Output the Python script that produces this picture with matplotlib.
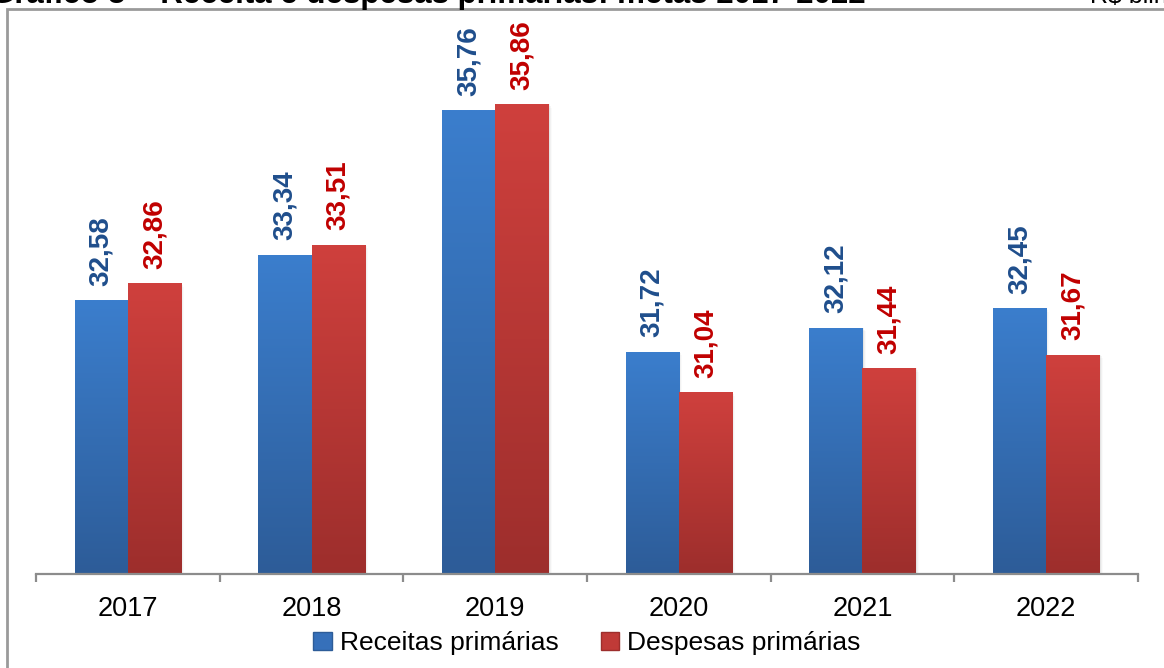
import matplotlib.pyplot as plt
import numpy as np
from matplotlib.colors import LinearSegmentedColormap
from matplotlib.patches import Patch, Rectangle

plt.rcParams['font.family'] = ['Liberation Sans', 'DejaVu Sans']

anos = ['2017', '2018', '2019', '2020', '2021', '2022']
receitas = [32.58, 33.34, 35.76, 31.72, 32.12, 32.45]
despesas = [32.86, 33.51, 35.86, 31.04, 31.44, 31.67]

W, H = 1164, 668
fig = plt.figure(figsize=(W / 100, H / 100), dpi=100)
ax = fig.add_axes([36 / W, 1 - 574 / H, (1138 - 36) / W, (574 - 36) / H])

ymin, ymax = 28, 37
ax.set_ylim(ymin, ymax)
ax.set_xlim(-0.5, len(anos) - 0.5)

largura = 0.29
azul = LinearSegmentedColormap.from_list('azul', ['#2d5c98', '#3b7ecd'])
verm = LinearSegmentedColormap.from_list('verm', ['#9d2e2c', '#cf403d'])
grad = np.linspace(0, 1, 256).reshape(-1, 1)


def barra(x, v, cmap):
    # sombra leve à direita
    for k, a in enumerate([0.05, 0.035, 0.02]):
        ax.add_patch(Rectangle((x - largura / 2 + 0.006 * (k + 1), ymin), largura, v - ymin - 0.03 * k,
                               facecolor='black', alpha=a, edgecolor='none', zorder=1))
    b = ax.bar(x, v - ymin, bottom=ymin, width=largura, color='none', zorder=2)[0]
    im = ax.imshow(grad, cmap=cmap, origin='lower', aspect='auto', zorder=2,
                   extent=[x - largura / 2, x + largura / 2, ymin, v])
    im.set_clip_path(b)


x = np.arange(len(anos))
for i in range(len(anos)):
    barra(x[i] - largura / 2, receitas[i], azul)
    barra(x[i] + largura / 2, despesas[i], verm)
    ax.text(x[i] - largura / 2, receitas[i] + 0.24, f'{receitas[i]:.2f}'.replace('.', ','),
            rotation=90, ha='center', va='bottom', fontsize=20, fontweight='bold', color='#1f4e8c')
    ax.text(x[i] + largura / 2, despesas[i] + 0.24, f'{despesas[i]:.2f}'.replace('.', ','),
            rotation=90, ha='center', va='bottom', fontsize=20, fontweight='bold', color='#c00000')

ax.set_xlim(-0.5, len(anos) - 0.5)
ax.set_ylim(ymin, ymax)

for s in ['top', 'right', 'left']:
    ax.spines[s].set_visible(False)
ax.spines['bottom'].set_color('#8c8c8c')
ax.spines['bottom'].set_linewidth(1.6)
ax.set_yticks([])
ax.set_xticks(x)
ax.set_xticklabels(anos, fontsize=19.5)
ax.set_xticks(np.arange(-0.5, len(anos)), minor=True)
ax.tick_params(axis='x', which='major', length=0, pad=16)
ax.tick_params(axis='x', which='minor', length=6, width=1.6, color='#8c8c8c')

handles = [Patch(facecolor='#3670ba', edgecolor='#2d5c98', label='Receitas primárias'),
           Patch(facecolor='#c03a37', edgecolor='#9d2e2c', label='Despesas primárias')]
fig.legend(handles=handles, loc='center', bbox_to_anchor=(587 / W, 1 - 643 / H), ncol=2,
           frameon=False, fontsize=19, handlelength=0.7, handleheight=0.7,
           handletextpad=0.3, columnspacing=1.6)

# moldura do gráfico
fig.patches.append(Rectangle((7 / W, -0.1), 1.2, 1 - 9 / H + 0.1, transform=fig.transFigure,
                             facecolor='none', edgecolor='#9a9a9a', linewidth=2))

# título (cortado no topo)
fig.text(866 / W, 1 - 3 / H, 'Gráfico 5 – Receita e despesas primárias: metas 2017-2022',
         ha='right', va='baseline', fontsize=22.5, fontweight='bold')
fig.text(1090 / W, 1 - 3 / H, 'R$ bilhões', ha='left', va='baseline', fontsize=18)

fig.savefig('out.png', dpi=100)
